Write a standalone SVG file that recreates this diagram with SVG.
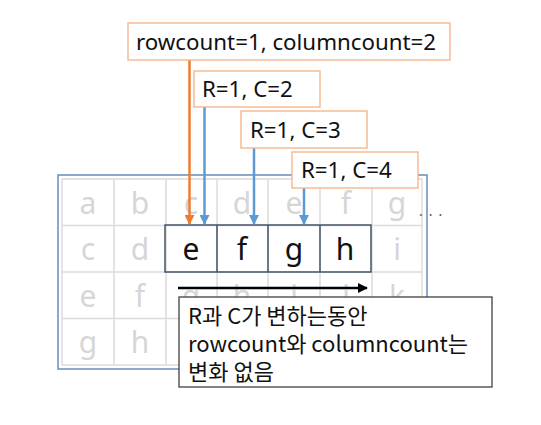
<svg xmlns="http://www.w3.org/2000/svg" width="541" height="425" viewBox="0 0 541 425">
<style>
.g{font-family:"Noto Sans","Noto Sans CJK KR",sans-serif;font-size:30px;fill:#d6d6d6;text-anchor:middle}
.k{font-family:"Noto Sans","Noto Sans CJK KR",sans-serif;font-size:30px;fill:#111;text-anchor:middle}
.gl{stroke:#dcdcdc;stroke-width:1.5;fill:none}
.cb{fill:#fff;stroke:#f4b183;stroke-width:1.3}
.ct{font-family:"Noto Sans","Noto Sans CJK KR",sans-serif;font-size:22.3px;fill:#111}
.bt{font-family:"Noto Sans CJK KR","Noto Sans",sans-serif;font-size:22px;fill:#111}
.hb{fill:none;stroke:#44546a;stroke-width:1.5}
</style>
<defs>
<marker id="ao" viewBox="0 0 10 10" refX="9" refY="5" markerWidth="4" markerHeight="4" orient="auto"><path d="M0,0L10,5L0,10z" fill="#ed7d31"/></marker>
<marker id="ab" viewBox="0 0 10 10" refX="9" refY="5" markerWidth="4" markerHeight="4" orient="auto"><path d="M0,0L10,5L0,10z" fill="#5b9bd5"/></marker>
<marker id="ak" viewBox="0 0 10 10" refX="9" refY="5" markerWidth="4" markerHeight="4" orient="auto"><path d="M0,0L10,5L0,10z" fill="#000"/></marker>
</defs>
<rect width="541" height="425" fill="#fff"/>
<g id="grid">
<rect x="58" y="175" width="369" height="194" fill="#fff" stroke="#6a8cb8" stroke-width="1.5"/>
<rect class="gl" x="62" y="179" width="360" height="186"/>
<path class="gl" d="M114,179V365M166,179V365M217,179V365M268,179V365M320,179V365M372,179V365M62,225.5H422M62,272H422M62,318.5H422"/>
<g>
<text class="g" x="88" y="214">a</text><text class="g" x="140" y="214">b</text><text class="g" x="191" y="214">c</text><text class="g" x="242" y="214">d</text><text class="g" x="294" y="214">e</text><text class="g" x="346" y="214">f</text><text class="g" x="397" y="214">g</text>
<text class="g" x="88" y="260">c</text><text class="g" x="140" y="260">d</text><text class="g" x="397" y="260">i</text>
<text class="g" x="88" y="307">e</text><text class="g" x="140" y="307">f</text><text class="g" x="191" y="307">g</text><text class="g" x="242" y="307">h</text><text class="g" x="294" y="307">i</text><text class="g" x="346" y="307">j</text><text class="g" x="397" y="307">k</text>
<text class="g" x="88" y="353">g</text><text class="g" x="140" y="353">h</text>
</g>
<text x="419" y="216" style="font-family:'Noto Sans',sans-serif;font-size:14px;fill:#555;letter-spacing:6px">...</text>
</g>
<g id="cells">
<rect class="hb" x="165" y="225" width="206" height="47" fill="#fff"/>
<path class="hb" d="M217,225V272M268,225V272M320,225V272"/>
<text class="k" x="191" y="260">e</text><text class="k" x="242" y="260">f</text><text class="k" x="294" y="260">g</text><text class="k" x="345" y="260">h</text>
</g>
<g id="connectors">
<path d="M189.5,60V224" stroke="#ed7d31" stroke-width="2.5" fill="none" marker-end="url(#ao)"/>
<path d="M204.5,107V224" stroke="#5b9bd5" stroke-width="2.5" fill="none" marker-end="url(#ab)"/>
<path d="M254,148V224" stroke="#5b9bd5" stroke-width="2.5" fill="none" marker-end="url(#ab)"/>
<path d="M304,188V224" stroke="#5b9bd5" stroke-width="2.5" fill="none" marker-end="url(#ab)"/>
<path d="M178,288H367" stroke="#000" stroke-width="2.5" fill="none" marker-end="url(#ak)"/>
</g>
<g id="label-total">
<rect class="cb" x="128" y="23" width="322" height="37"/>
<text class="ct" x="136" y="50">rowcount=1, columncount=2</text>
</g>
<g id="label-c2">
<rect class="cb" x="194" y="71" width="126" height="36"/>
<text class="ct" x="202" y="97">R=1, C=2</text>
</g>
<g id="label-c3">
<rect class="cb" x="241" y="111" width="126" height="37"/>
<text class="ct" x="250" y="138">R=1, C=3</text>
</g>
<g id="label-c4">
<rect class="cb" x="292" y="152" width="126" height="36"/>
<text class="ct" x="301" y="178">R=1, C=4</text>
</g>
<g id="note">
<rect x="179" y="297" width="313" height="90" fill="#fff" stroke="#404040" stroke-width="1.3"/>
<text class="bt" x="188" y="324">R과 C가 변하는동안</text>
<text class="bt" x="188" y="352">rowcount와 columncount는</text>
<text class="bt" x="188" y="380">변화 없음</text>
</g>
</svg>
